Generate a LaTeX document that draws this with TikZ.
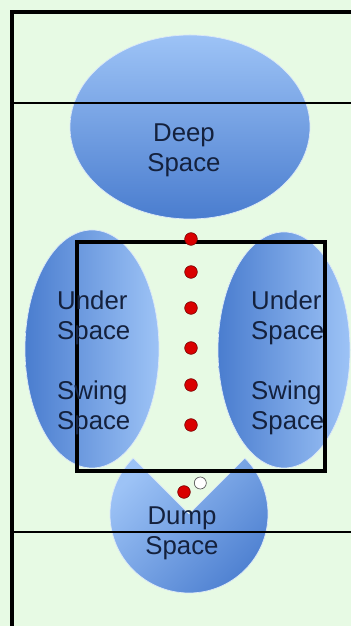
\documentclass[tikz,border=0pt]{standalone}
\usepackage{fontspec}
\setmainfont{Liberation Sans}
\usepackage{tikz}
\usetikzlibrary{positioning,shapes.geometric}
\definecolor{fieldGreen}{HTML}{E7FAE4}
\definecolor{spLight}{HTML}{9DC3F6}
\definecolor{spDark}{HTML}{4A7DCF}
\definecolor{spEdge}{HTML}{DCE8F8}
\definecolor{spText}{HTML}{14213D}

\begin{document}
\begin{tikzpicture}[x=0.03cm, y=0.03cm,
  space/.style={draw=spEdge, line width=0.6pt},
  lbl/.style={font=\fontsize{22}{25.5}\selectfont, text=spText, align=left, inner sep=0pt},
  field/.style={line width=1.8pt, color=black},
  player/.style={circle, fill=red!85!black, draw=red!45!black, line width=0.5pt, minimum size=0.38cm, inner sep=0pt},
  disc/.style={circle, fill=white, draw=gray!70!black, line width=0.6pt, minimum size=0.36cm, inner sep=0pt}
]
  \useasboundingbox (0,0) rectangle (351,626);
  \fill[fieldGreen] (0,0) rectangle (351,626);

  % spaces
  \shade[space, top color=spLight, bottom color=spDark] (190,499) ellipse[x radius=120, y radius=92];
  \shade[space, left color=spDark, right color=spLight] (92,277) ellipse[x radius=67, y radius=119];
  \shade[space, left color=spDark, right color=spLight] (284,276) ellipse[x radius=66, y radius=118];
  \shade[space, left color=spLight, right color=spDark, shading angle=45]
    (189,112) -- ++(135:79) arc[start angle=135, end angle=405, radius=79] -- cycle;

  % field lines
  \draw[line width=3.4pt] (351,614) -- (12,614) -- (12,0);
  \draw[field] (12,523) -- (351,523);
  \draw[field] (12,94) -- (351,94);
  \draw[line width=2.6pt] (77,384) rectangle (325,155);

  % labels
  \node[lbl, align=center] (deep) at (184,476) {Deep\\Space};
  \node[lbl, anchor=west] (underL) at (57,263) {Under\\Space\\[25.5pt]Swing\\Space};
  \node[lbl, anchor=west] (underR) at (251,263) {Under\\Space\\[25.5pt]Swing\\Space};
  \node[lbl, align=center] (dump) at (182,93) {Dump\\Space};

  % stack
  \foreach \yy [count=\i] in {387,354,318,278,241,201}
    \node[player] (p\i) at (191,\yy) {};
  \node[player] (handler) at (184,134) {};
  \node[disc, right=0.1cm of handler, yshift=0.27cm] (frisbee) {};
\end{tikzpicture}
\end{document}
